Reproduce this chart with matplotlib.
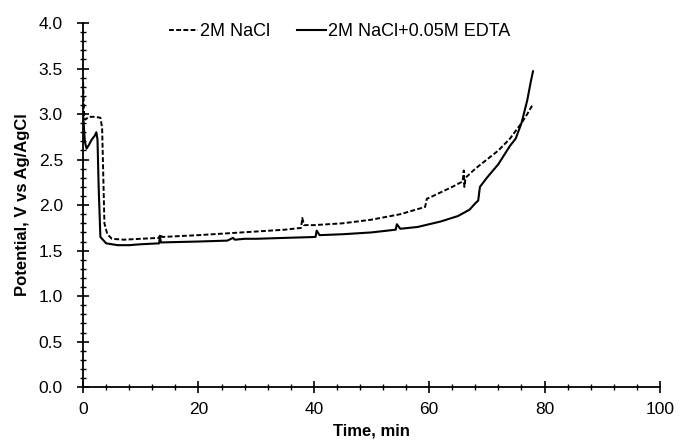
import matplotlib
matplotlib.use("Agg")
import matplotlib.pyplot as plt
from matplotlib.ticker import MultipleLocator

# 2M NaCl (dashed)
t_nacl = [0, 0.2, 0.4, 1, 2, 3, 3.3, 3.7, 4.2, 5, 7, 10, 13.2, 13.4, 13.7, 20, 25, 30, 35,
          37.8, 38.0, 38.3, 40, 45, 50, 55, 59.3, 59.6, 60, 62, 64, 65.8, 66.0, 66.1, 66.3,
          68, 70, 72, 74, 76, 77, 78]
v_nacl = [3.35, 2.95, 2.94, 2.97, 2.97, 2.96, 2.85, 1.8, 1.68, 1.63, 1.62, 1.63, 1.64, 1.68, 1.65,
          1.67, 1.69, 1.71, 1.73, 1.75, 1.86, 1.78, 1.78, 1.8, 1.84, 1.9, 1.98, 2.07, 2.08, 2.14,
          2.2, 2.26, 2.38, 2.2, 2.3, 2.4, 2.5, 2.6, 2.73, 2.9, 3.0, 3.11]

# 2M NaCl + 0.05M EDTA (solid)
t_edta = [0, 0.3, 0.6, 1, 1.5, 2, 2.3, 2.5, 2.7, 3, 4, 6, 8, 10, 13.2, 13.3, 13.5, 20, 25,
          26, 26.3, 28, 30, 35, 40.3, 40.5, 41, 45, 50, 54.2, 54.4, 55, 58, 62, 65, 67, 68,
          68.5, 68.8, 70, 72, 73, 74, 75, 76, 77, 77.6, 78]
v_edta = [3.0, 2.7, 2.62, 2.66, 2.72, 2.76, 2.8, 2.72, 2.2, 1.65, 1.58, 1.56, 1.56, 1.57, 1.58,
          1.66, 1.59, 1.6, 1.61, 1.64, 1.62, 1.63, 1.63, 1.64, 1.65, 1.72, 1.67, 1.68, 1.7, 1.73,
          1.79, 1.74, 1.76, 1.82, 1.88, 1.95, 2.02, 2.05, 2.2, 2.3, 2.45, 2.55, 2.65, 2.73, 2.9,
          3.15, 3.35, 3.47]

plt.rcParams['font.family'] = ['Liberation Sans', 'DejaVu Sans']

fig = plt.figure(figsize=(6.81, 4.43), dpi=100)
ax = fig.add_axes([0.122, 0.126, 0.847, 0.822])

ax.plot(t_nacl, v_nacl, color="black", linestyle=(0, (2.5, 1.2)), linewidth=1.4, label="2M NaCl")
ax.plot(t_edta, v_edta, color="black", linestyle="-", linewidth=1.5, label="2M NaCl+0.05M EDTA")

ax.set_xlim(0, 100)
ax.set_ylim(0, 4.0)
ax.xaxis.set_major_locator(MultipleLocator(20))
ax.xaxis.set_minor_locator(MultipleLocator(4))
ax.yaxis.set_major_locator(MultipleLocator(0.5))
ax.yaxis.set_minor_locator(MultipleLocator(0.1))
ax.yaxis.set_major_formatter(plt.FormatStrFormatter('%.1f'))
ax.tick_params(which='major', direction='inout', length=9, width=1.2, labelsize=12.5, colors='black')
ax.tick_params(axis='y', which='major', pad=10)
ax.tick_params(axis='x', which='major', pad=6)
ax.tick_params(which='minor', direction='inout', length=5, width=1.0)
for s in ['top', 'right']:
    ax.spines[s].set_visible(False)
for s in ['left', 'bottom']:
    ax.spines[s].set_linewidth(1.3)

ax.set_xlabel('Time, min', fontsize=12, fontweight='bold', labelpad=5)
ax.set_ylabel('Potential, V vs Ag/AgCl', fontsize=12, fontweight='bold', labelpad=6)

ax.legend(loc='upper center', bbox_to_anchor=(0.445, 1.045), ncol=2, frameon=False,
          fontsize=13, handlelength=1.6, handletextpad=0.1, columnspacing=1.5)

plt.savefig("out.png", dpi=100)
